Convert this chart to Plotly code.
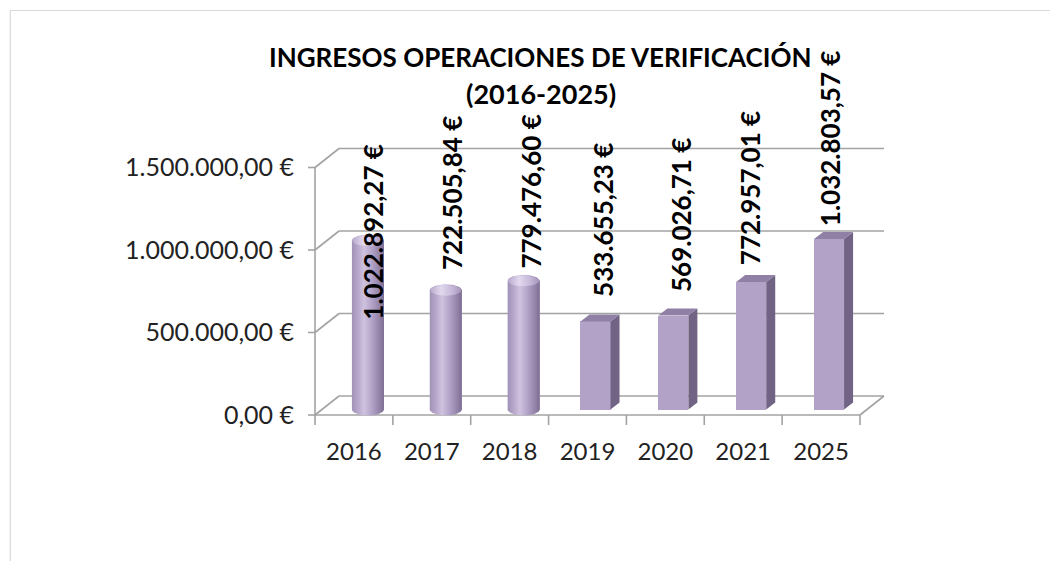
import numpy as np
import plotly.graph_objects as go

# ---------------- data ----------------
years = ["2016", "2017", "2018", "2019", "2020", "2021", "2025"]
ingresos = [1022892.27, 722505.84, 779476.60, 533655.23, 569026.71, 772957.01, 1032803.57]
forma = ["cilindro", "cilindro", "cilindro", "caja", "caja", "caja", "caja"]
y_tick_vals = [0, 500000, 1000000, 1500000]
y_tick_text = ["0,00 €", "500.000,00 €", "1.000.000,00 €", "1.500.000,00 €"]
title_line1 = "INGRESOS OPERACIONES DE VERIFICACIÓN"
title_line2 = "(2016-2025)"

# manual label placement (pixels) mimicking the hand-moved Excel labels
label_dx_px = [19, 20, 21, 16, 15, 7, 9]
label_gap_px = [-81, 18, 10, 22, 22, 15, 11]


def eur(v):
    s = f"{v:,.2f}".replace(",", "X").replace(".", ",").replace("X", ".")
    return s + " €"


# ---------------- geometry (styles) ----------------
W, H = 1058, 561
PAGE = 8  # page body margin of the html output


def P(v):
    return v - PAGE


FRONT_L, FRONT_Y, TOP_Y = P(315), P(415), P(147)
CAT_PX = 77.8
PX_PER_EUR = 165 / 1e6
DEPTH_DX, DEPTH_DY = 24, 19
n = len(years)

PAD_L, PAD_B, PAD_R = 8, 12, 4
plot_left = FRONT_L - PAD_L
plot_right = FRONT_L + n * CAT_PX + DEPTH_DX + PAD_R
plot_top = TOP_Y
plot_bottom = FRONT_Y + PAD_B


def xu(px):
    return px / CAT_PX


def yu(px):
    return px / PX_PER_EUR


x_range = [-xu(PAD_L), n + xu(DEPTH_DX + PAD_R)]
y_range = [-yu(PAD_B), yu(FRONT_Y - TOP_Y)]


def xp(px):
    return (px - plot_left) / (plot_right - plot_left)


def yp(py):
    return (plot_bottom - py) / (plot_bottom - plot_top)


dxu, dyu = xu(DEPTH_DX), yu(DEPTH_DY)
base = yu(5.5)

GRID = "#a3a3a3"
FRONT = "#b3a2c7"
SIDE = "#706383"
TOPC = "#9080a6"

fig = go.Figure()
shapes = []


def seg(x0, y0, x1, y1, w=1.6):
    shapes.append(dict(type="line", xref="x", yref="y", x0=x0, y0=y0, x1=x1, y1=y1,
                       line=dict(color=GRID, width=w), layer="below"))


# walls / gridlines
for v in y_tick_vals:
    seg(0, v, dxu, v + dyu)
    seg(dxu, v + dyu, n + dxu, v + dyu)
    seg(-xu(7), v, 0, v)  # y tick marks
seg(0, 0, 0, y_tick_vals[-1])
seg(0, 0, n, 0)
seg(n, 0, n + dxu, dyu)
for i in range(n + 1):
    seg(i, 0, i, -yu(10))  # category tick marks

# chart-area frame
shapes.append(dict(type="rect", xref="paper", yref="paper",
                   x0=xp(P(10.5)), x1=xp(W + 10), y0=yp(H + 10), y1=yp(P(10.5)),
                   line=dict(color="#d9d9d9", width=1.2), fillcolor="rgba(0,0,0,0)", layer="below"))

# ---------------- bars ----------------
centers = [i + 0.5 for i in range(n)]
offsets = [xu(-2) if f == "cilindro" else xu(-7) for f in forma]
widths = [xu(32) if f == "cilindro" else xu(30) for f in forma]
fig.add_trace(go.Bar(x=centers, y=ingresos, base=[base] * n, offset=offsets, width=widths,
                     marker=dict(color=FRONT, line=dict(width=0)), hoverinfo="skip"))

# box side / top faces
sx, sy, tx, ty = [], [], [], []
bdx, bdy = xu(9), yu(7)
for c, v, f, o, w in zip(centers, ingresos, forma, offsets, widths):
    if f != "caja":
        continue
    l = c + o
    r = l + w
    top = base + v
    sx += [r, r + bdx, r + bdx, r, r, None]
    sy += [base, base + bdy, top + bdy, top, base, None]
    tx += [l, l + bdx, r + bdx, r, l, None]
    ty += [top, top + bdy, top + bdy, top, top, None]
fig.add_trace(go.Scatter(x=sx, y=sy, fill="toself", fillcolor=SIDE, mode="lines",
                         line=dict(width=0, color=SIDE), hoverinfo="skip"))
fig.add_trace(go.Scatter(x=tx, y=ty, fill="toself", fillcolor=TOPC, mode="lines",
                         line=dict(width=0, color=TOPC), hoverinfo="skip"))

# cylinders
rx, ry = xu(16), yu(6)
for c, v, f, o, w in zip(centers, ingresos, forma, offsets, widths):
    if f != "cilindro":
        continue
    cx = c + o + w / 2
    top = base + v
    t1 = np.linspace(np.pi, 0, 40)
    t2 = np.linspace(0, -np.pi, 40)
    bx = list(cx + rx * np.cos(t1)) + list(cx + rx * np.cos(t2))
    by = list(top + ry * np.sin(t1)) + list(base + ry * np.sin(t2))
    bx.append(bx[0]); by.append(by[0])
    fig.add_trace(go.Scatter(
        x=bx, y=by, fill="toself", mode="lines", line=dict(width=0, color=FRONT),
        fillgradient=dict(type="horizontal",
                          colorscale=[[0, "#a091b6"], [0.18, "#b6a6ca"], [0.38, "#cfc3e0"],
                                      [0.62, "#b3a3c8"], [0.85, "#9584aa"], [1, "#7e6e92"]]),
        hoverinfo="skip"))
    t3 = np.linspace(0, 2 * np.pi, 60)
    ex = cx + rx * 0.97 * np.cos(t3)
    ey = top + ry * 0.9 * np.sin(t3)
    fig.add_trace(go.Scatter(
        x=ex, y=ey, fill="toself", mode="lines", line=dict(width=0, color="#c9bddb"),
        fillgradient=dict(type="horizontal",
                          colorscale=[[0, "#b9aacd"], [0.35, "#e2d9ee"], [0.7, "#c6b9d9"], [1, "#a595ba"]]),
        hoverinfo="skip"))

# ---------------- data labels ----------------
annotations = []
for c, v, dx, gap in zip(centers, ingresos, label_dx_px, label_gap_px):
    annotations.append(dict(x=c + xu(dx), y=base + v, xref="x", yref="y",
                            text=eur(v), textangle=-90, showarrow=False,
                            xanchor="center", yanchor="bottom", yshift=gap,
                            font=dict(family="Lato", size=26, color="#000000", weight="bold")))

# titles
annotations.append(dict(x=xp(P(540)), y=yp(P(57)), xref="paper", yref="paper", text=title_line1,
                        showarrow=False, xanchor="center", yanchor="middle",
                        font=dict(family="Lato", size=26, color="#000000", weight="bold")))
annotations.append(dict(x=xp(P(541)), y=yp(P(93)), xref="paper", yref="paper", text=title_line2,
                        showarrow=False, xanchor="center", yanchor="middle",
                        font=dict(family="Lato", size=27, color="#000000", weight="bold")))

fig.update_layout(
    width=W, height=H, autosize=False,
    margin=dict(l=plot_left, r=W - plot_right, t=plot_top, b=H - plot_bottom, pad=0, autoexpand=False),
    paper_bgcolor="white", plot_bgcolor="white", showlegend=False,
    shapes=shapes, annotations=annotations, bargap=0,
    xaxis=dict(range=x_range, tickmode="array", tickvals=centers, ticktext=years,
               ticks="", showgrid=False, zeroline=False, showline=False, fixedrange=True,
               tickfont=dict(family="Lato", size=24, color="#222222"), ticklabelstandoff=8),
    yaxis=dict(range=y_range, tickmode="array", tickvals=y_tick_vals, ticktext=y_tick_text,
               ticks="", showgrid=False, zeroline=False, showline=False, fixedrange=True,
               tickfont=dict(family="Lato", size=25, color="#222222"), ticklabelstandoff=12),
)

fig.write_html("out.html")
